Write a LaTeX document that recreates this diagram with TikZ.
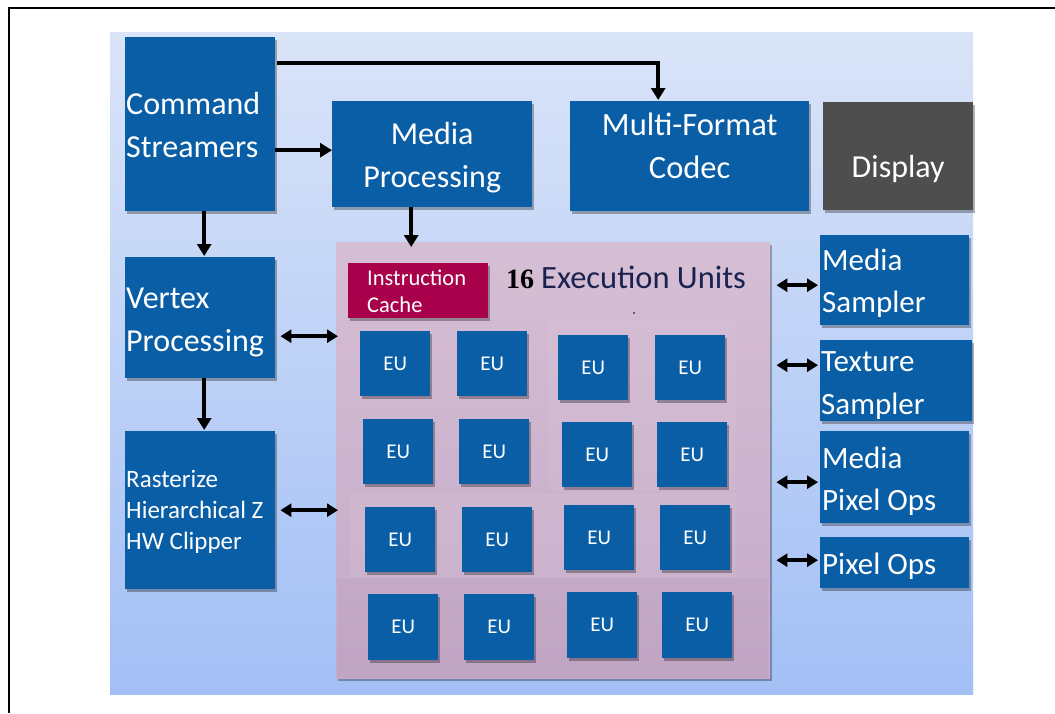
\documentclass[tikz,border=0pt]{standalone}
\usepackage{fontspec}
\setmainfont{Carlito}
\newfontfamily\serifb{Liberation Serif}
\usetikzlibrary{arrows.meta,shadows,calc}
\definecolor{boxblue}{RGB}{10,94,166}
\definecolor{dispgray}{RGB}{78,78,78}
\definecolor{icache}{RGB}{168,0,74}
\definecolor{bgtop}{RGB}{218,228,248}
\definecolor{bgbot}{RGB}{162,191,245}
\definecolor{pinktop}{RGB}{214,190,212}
\definecolor{pinkbot}{RGB}{196,170,200}
\definecolor{navytext}{RGB}{25,35,80}
\begin{document}
\begin{tikzpicture}[x=1pt,y=-1pt,
  shade1/.style={drop shadow={shadow xshift=2pt,shadow yshift=-2.5pt,opacity=0.3,fill=black}},
  box/.style={fill=boxblue,inner sep=0pt,anchor=north west,shade1},
  lbl/.style={text=white,inner sep=0pt,align=left,font=\fontsize{32}{43}\selectfont},
  clbl/.style={lbl,align=center},
  slbl/.style={lbl,font=\fontsize{31}{42.5}\selectfont},
  eu/.style={box,text=white,minimum width=70pt,minimum height=65pt,font=\fontsize{21}{24}\selectfont},
  arr/.style={line width=3.6pt,-{Triangle[length=12pt,width=14pt]}},
  dbl/.style={line width=3.6pt,{Triangle[length=11pt,width=13pt]}-{Triangle[length=11pt,width=13pt]}}
]
\useasboundingbox (0,0) rectangle (1055,713);
\fill[white] (0,0) rectangle (1055,713);
% frame
\draw[line width=1.8pt] (9,713) -- (9,8) -- (1055,8);
% background panel
\shade[top color=bgtop,bottom color=bgbot] (110,32) rectangle (973,694);
% EU panel
\node[anchor=north west,minimum width=434pt,minimum height=436pt,inner sep=0pt,
      top color=pinktop,bottom color=pinkbot,shade1] (eup) at (336,242) {};
\fill[white,opacity=0.06] (350,493) rectangle (736,578);
\fill[white,opacity=0.05] (548,320) rectangle (736,490);
\fill[black,opacity=0.025] (337,578) rectangle (768,678);

% left column
\node[box,minimum width=150pt,minimum height=174pt] (cs) at (125,37) {};
\node[box,minimum width=150pt,minimum height=121pt] (vp) at (125,257) {};
\node[box,minimum width=150pt,minimum height=158pt] (rz) at (125,431) {};
\node[lbl,anchor=west] (csT) at ([xshift=1pt,yshift=-1pt]cs.west) {Command\\Streamers};
\node[lbl,anchor=west] (vpT) at ([xshift=1pt,yshift=-4.5pt]vp.west) {Vertex\\Processing};
\node[lbl,anchor=west,font=\fontsize{25}{31}\selectfont] (rzT) at ([xshift=1pt,yshift=-2pt]rz.west) {Rasterize\\Hierarchical Z\\HW Clipper};

% top row
\node[box,minimum width=200pt,minimum height=106pt] (mp) at (332,101) {};
\node[box,minimum width=239pt,minimum height=110pt] (mfc) at (570,101) {};
\node[box,fill=dispgray,minimum width=150pt,minimum height=108pt] (disp) at (823,102) {};
\node[clbl] (mpT) at ([yshift=-3pt]mp.center) {Media\\Processing};
\node[clbl,font=\fontsize{32.5}{43}\selectfont] (mfcT) at ([yshift=10pt]mfc.center) {Multi-Format\\Codec};
\node[clbl] (dispT) at ([yshift=-13pt]disp.center) {Display};

% right column
\node[box,minimum width=149pt,minimum height=90pt] (ms) at (820,235) {};
\node[box,minimum width=152pt,minimum height=81pt] (ts) at (820,340) {};
\node[box,minimum width=149pt,minimum height=92pt] (mpo) at (820,431) {};
\node[box,minimum width=149pt,minimum height=51pt] (po) at (820,537) {};
\node[slbl,anchor=west] (msT) at ([xshift=2pt,yshift=-3pt]ms.west) {Media\\Sampler};
\node[slbl,anchor=west] (tsT) at ([xshift=1pt,yshift=-5pt]ts.west) {Texture\\Sampler};
\node[slbl,anchor=west] (mpoT) at ([xshift=2pt,yshift=-4pt]mpo.west) {Media\\Pixel Ops};
\node[slbl,anchor=west] (poT) at ([xshift=2pt,yshift=-3.5pt]po.west) {Pixel Ops};

% instruction cache and title
\node[box,fill=icache,minimum width=140pt,minimum height=55pt] (ic) at (348,263) {};
\node[lbl,anchor=west,font=\fontsize{22.5}{27}\selectfont] (icT) at ([xshift=19pt,yshift=-1pt]ic.west) {Instruction\\Cache};
\node[anchor=base west,inner sep=0pt] (title) at (506,288)
  {{\serifb\bfseries\fontsize{28}{30}\selectfont 16}\hspace{7pt}{\color{navytext}\fontsize{32.5}{34}\selectfont Execution Units}};
\fill[black] (634,313) circle (0.9pt);

% EUs
\node[eu] (e11) at (360,331) {EU};
\node[eu] (e12) at (457,331) {EU};
\node[eu] (e13) at (558,335) {EU};
\node[eu] (e14) at (655,335) {EU};
\node[eu] (e21) at (363,419) {EU};
\node[eu] (e22) at (459,419) {EU};
\node[eu] (e23) at (562,422) {EU};
\node[eu] (e24) at (657,422) {EU};
\node[eu] (e31) at (365,507) {EU};
\node[eu] (e32) at (462,507) {EU};
\node[eu] (e33) at (564,505) {EU};
\node[eu] (e34) at (660,505) {EU};
\node[eu,minimum height=66pt] (e41) at (368,594) {EU};
\node[eu,minimum height=66pt] (e42) at (464,594) {EU};
\node[eu,minimum height=66pt] (e43) at (567,592) {EU};
\node[eu,minimum height=66pt] (e44) at (662,592) {EU};

% helper coordinates
\coordinate (csTop) at ([xshift=2pt,yshift=-26pt]cs.north east);
\coordinate (mfcIn) at ([xshift=-31.5pt,yshift=1pt]mfc.north);
\coordinate (mpIn) at ([yshift=4pt]mp.west);
\coordinate (mpOut) at ([xshift=-21pt]mp.south);
\coordinate (vpE) at ([yshift=-18.5pt]vp.east);
\coordinate (msW) at ([yshift=-5pt]ms.west);
\coordinate (tsW) at ([yshift=15.5pt]ts.west);
\coordinate (mpoW) at ([yshift=-5pt]mpo.west);
\coordinate (poW) at ([yshift=2.5pt]po.west);

% connectors
\draw[arr] (csTop) -| (mfcIn);
\draw[arr] (mpIn -| cs.east) -- (mpIn);
\draw[arr] ([xshift=4pt]cs.south) -- ([xshift=4pt,yshift=1pt]vp.north);
\draw[arr] (mpOut) -- ($(mpOut |- eup.north)+(0,-5pt)$);
\draw[arr] ([xshift=4pt]vp.south) -- ([xshift=4pt,yshift=1pt]rz.north);
\draw[dbl] ($(vpE)+(5pt,0)$) -- ($(vpE -| eup.west)+(2pt,0)$);
\draw[dbl] ($(rz.east)+(5pt,0)$) -- ($(rz.east -| eup.west)+(2pt,0)$);
\draw[dbl] ($(msW)+(-2pt,0)$) -- ($(msW -| eup.east)+(6pt,0)$);
\draw[dbl] ($(tsW)+(-2pt,0)$) -- ($(tsW -| eup.east)+(6pt,0)$);
\draw[dbl] ($(mpoW)+(-2pt,0)$) -- ($(mpoW -| eup.east)+(6pt,0)$);
\draw[dbl] ($(poW)+(-2pt,0)$) -- ($(poW -| eup.east)+(6pt,0)$);
\end{tikzpicture}
\end{document}
